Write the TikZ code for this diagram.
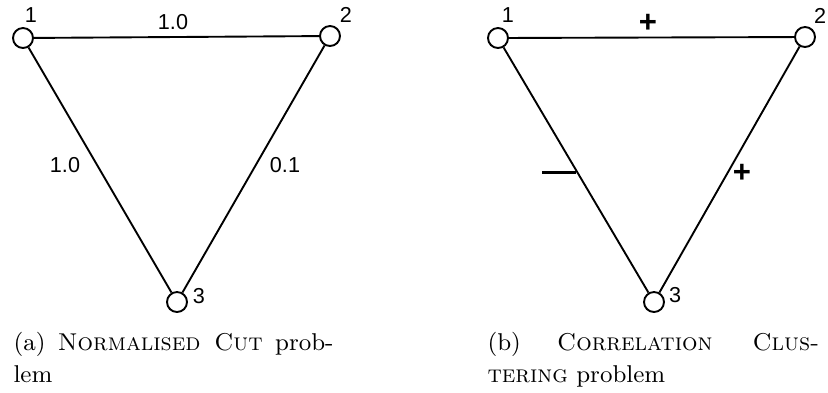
\documentclass[tikz,border=0pt]{standalone}
\usepackage{fontspec}
\newfontfamily\labfont{Liberation Sans}
\begin{document}
\begin{tikzpicture}[x=0.37pt,y=-0.37pt,
  vtx/.style={circle,draw,line width=0.7pt,minimum size=7.4pt,inner sep=0pt},
  edge/.style={line width=0.7pt},
  lbl/.style={font=\labfont\fontsize{8}{9.6}\selectfont,inner sep=0pt},
  sgn/.style={font=\labfont\bfseries\fontsize{11.5}{13}\selectfont,inner sep=0pt},
  minusmark/.style={line width=1.1pt},
  captext/.style={anchor=north west,inner sep=0pt,align=justify,font=\fontsize{9}{11.8}\selectfont}]
\useasboundingbox (0,0) rectangle (828,392);

% ---- (a) ----
\node[vtx] (a1) at (23,38) {};
\node[vtx] (a2) at (330,36) {};
\node[vtx] (a3) at (177,302) {};
\node[lbl] (la1) at (31,15) {1};
\node[lbl] (la2) at (346,15) {2};
\node[lbl] (la3) at (199,296) {3};
\draw[edge] (a1) -- (a2);
\draw[edge] (a1) -- (a3);
\draw[edge] (a2) -- (a3);
\node[lbl] (wa12) at (173,22) {1.0};
\node[lbl] (wa13) at (65,165) {1.0};
\node[lbl] (wa23) at (285,165) {0.1};

% ---- (b) ----
\node[vtx] (b1) at (498,38) {};
\node[vtx] (b2) at (805,37) {};
\node[vtx] (b3) at (654,302) {};
\node[lbl] (lb1) at (508,15) {1};
\node[lbl] (lb2) at (820,16) {2};
\node[lbl] (lb3) at (675,295) {3};
\draw[edge] (b1) -- (b2);
\draw[edge] (b1) -- coordinate[pos=0.5] (mid13) (b3);
\draw[edge] (b2) -- (b3);
\node[sgn] (sb12) at (648,23) {+};
\node[sgn] (sb23) at (742,173) {+};
\coordinate (mstart) at (542,172);
\draw[minusmark] (mstart) -- (mstart -| mid13);

% ---- captions ----
\node[captext,text width=118.4pt] (capa) at (13,332)
  {\noindent(a) \textsc{Normalised Cut} prob-\linebreak lem};
\node[captext,text width=122.8pt] (capb) at (487,332)
  {\noindent(b) \textsc{Correlation Clus-}\linebreak\textsc{tering} problem};
\end{tikzpicture}
\end{document}
